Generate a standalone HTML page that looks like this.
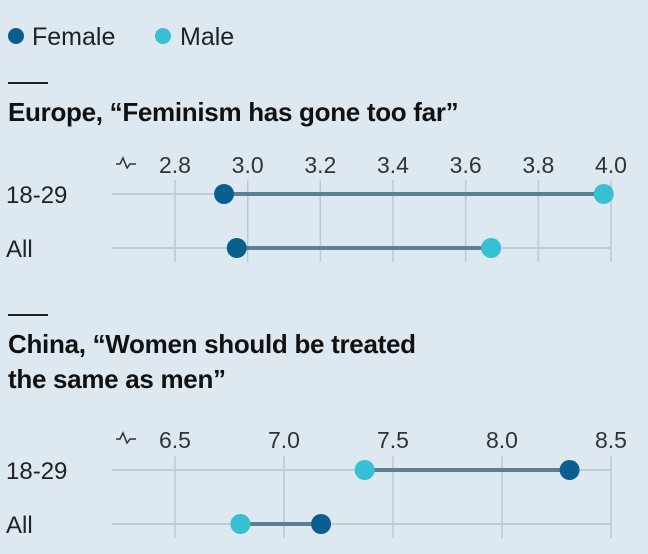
<!DOCTYPE html>
<html><head><meta charset="utf-8"><style>
body{margin:0;width:648px;height:554px;background:#dde8f1;font-family:"Liberation Sans",sans-serif;overflow:hidden}
</style></head><body>
<svg width="648" height="554" style="position:absolute;left:0;top:0" font-family="Liberation Sans, sans-serif">
<g>
<circle cx="16" cy="36" r="8" fill="#0b5f8f"/>
<text x="32" y="45" font-size="25" fill="#222">Female</text>
<circle cx="163" cy="36" r="8" fill="#37c0d3"/>
<text x="180" y="45" font-size="25" fill="#222">Male</text>
</g>
<rect x="8" y="82" width="40" height="2" fill="#222"/>
<text x="8" y="121" font-size="26" letter-spacing="-0.3" font-weight="bold" fill="#111">Europe, “Feminism has gone too far”</text>
<rect x="8" y="314" width="40" height="2" fill="#222"/>
<text x="8" y="353" font-size="26" letter-spacing="-0.3" font-weight="bold" fill="#111">China, “Women should be treated</text>
<text x="8" y="388" font-size="26" letter-spacing="-0.3" font-weight="bold" fill="#111">the same as men”</text>
<g id="p1"></g>
<g id="p2"></g>
</svg>
<script>
const rows = ["18-29","All"];
const euTicks = [2.8,3.0,3.2,3.4,3.6,3.8,4.0];
const euFemale = [2.935,2.97];
const euMale = [3.98,3.67];
const cnTicks = [6.5,7.0,7.5,8.0,8.5];
const cnFemale = [8.31,7.17];
const cnMale = [7.37,6.80];
const NS="http://www.w3.org/2000/svg";
function mk(p,t,a){const e=document.createElementNS(NS,t);for(const k in a)e.setAttribute(k,a[k]);p.appendChild(e);return e;}
function panel(g,ticks,fem,mal,labelY,rowYs,dec){
  const x0=175,x1=611,lo=ticks[0],hi=ticks[ticks.length-1];
  const sx=v=>x0+(v-lo)/(hi-lo)*(x1-x0);
  rowYs.forEach((y,i)=>{
    const l=mk(g,'line',{x1:112,x2:x1,y1:y,y2:y,stroke:'#c2ccd4','stroke-width':2});
    
    
    const t=mk(g,'text',{x:6,y:y+9,'font-size':24,fill:'#222'});t.textContent=rows[i];
    
    
  });
  ticks.forEach(v=>{
    const l=mk(g,'line',{x1:sx(v),x2:sx(v),y1:rowYs[0]-14,y2:rowYs[1]+14,stroke:'#bfc9d1','stroke-width':1.5});
    
    
    const t=mk(g,'text',{x:sx(v),y:labelY,'font-size':23,fill:'#333','text-anchor':'middle'});t.textContent=v.toFixed(1);
    
    
  });
  const b=mk(g,'path',{d:`M116 ${labelY-9} l4 0 l3 -6 l4 10 l3 -4 l6 0`,stroke:'#333',fill:'none','stroke-width':1.5});
  
  
  rowYs.forEach((y,i)=>{
    const l=mk(g,'line',{x1:sx(fem[i]),x2:sx(mal[i]),y1:y,y2:y,stroke:'#5d8091','stroke-width':4});
    
    
    const f=mk(g,'circle',{cx:sx(fem[i]),cy:y,r:10,fill:'#0b5f8f'});
    
    
    const m=mk(g,'circle',{cx:sx(mal[i]),cy:y,r:10,fill:'#37c0d3'});
    
    
  });
}
panel(document.getElementById('p1'),euTicks,euFemale,euMale,173,[194,248]);
panel(document.getElementById('p2'),cnTicks,cnFemale,cnMale,448,[470,524]);
</script>
</body></html>
